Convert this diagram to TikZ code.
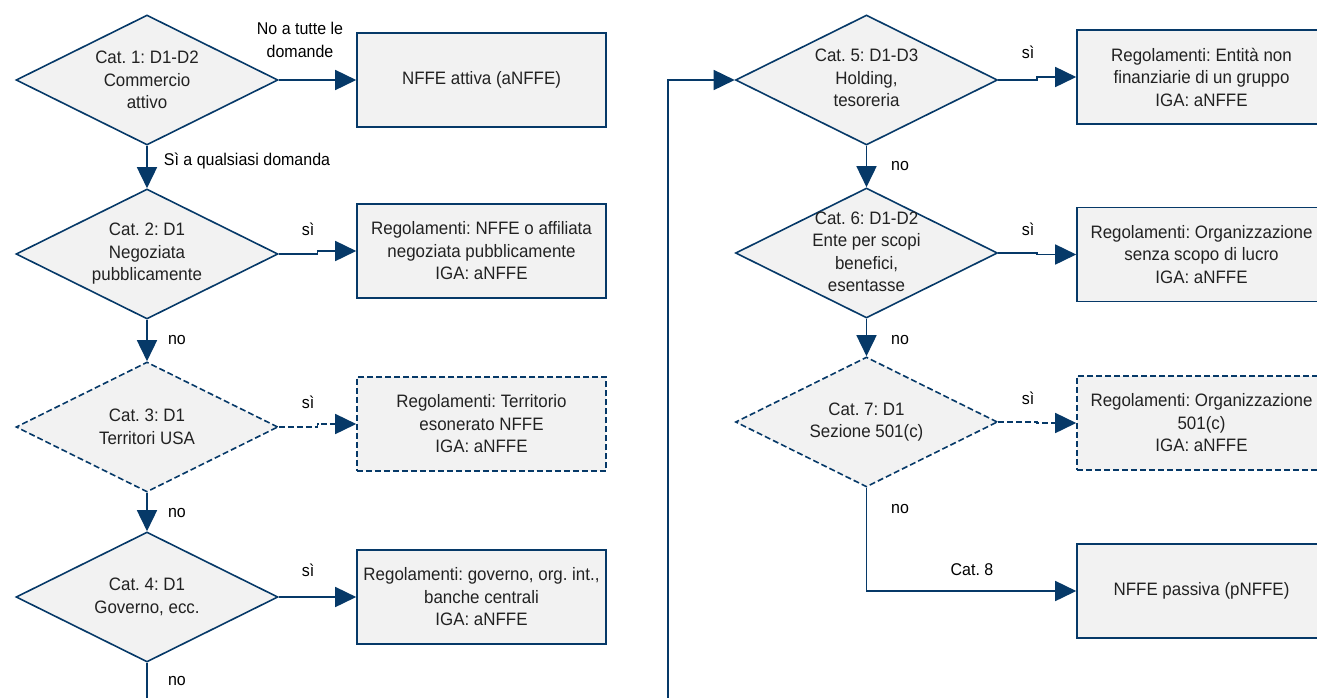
\documentclass[tikz,border=0pt]{standalone}
\usepackage{fontspec}
\setmainfont{Liberation Sans}[FakeStretch=0.94]
\usetikzlibrary{shapes.geometric,arrows.meta,calc}
\definecolor{navy}{RGB}{6,57,104}
\definecolor{boxfill}{RGB}{242,242,242}
\definecolor{txtc}{RGB}{34,34,34}
\frenchspacing
\begin{document}
\begin{tikzpicture}[x=1pt,y=-1pt,
  dia/.style={diamond,draw=navy,fill=boxfill,line width=1.6pt,minimum width=262pt,minimum height=130pt,inner sep=0pt},
  decbox/.style={rectangle,draw=navy,fill=boxfill,line width=1.6pt,minimum width=249pt,minimum height=94pt,inner sep=0pt},
  txt/.style={align=center,text=txtc,font=\fontsize{18}{22.5}\selectfont,inner sep=0pt},
  lbl/.style={align=center,text=black,font=\fontsize{17}{23}\selectfont,inner sep=0pt},
  conn/.style={draw=navy,line width=1.6pt,-{Triangle[length=21pt,width=20pt]}},
  plainline/.style={draw=navy,line width=1.6pt},
  dsh/.style={dash pattern=on 6pt off 3pt}
]
\useasboundingbox[fill=white] (0,0) rectangle (1317,697);

% left column diamonds
\node[dia] (d1) at (147,80) {};
\node[dia] (d2) at (147,254) {};
\node[dia,dsh] (d3) at (147,427) {};
\node[dia] (d4) at (147,597) {};
% right column diamonds
\node[dia] (d5) at (866.5,80) {};
\node[dia] (d6) at (866.5,253) {};
\node[dia,dsh] (d7) at (866.5,422) {};

\node[txt] (t1) at (d1) {Cat. 1: D1-D2\\Commercio\\attivo};
\node[txt] (t2) at (d2) {Cat. 2: D1\\Negoziata\\pubblicamente};
\node[txt] (t3) at (d3) {Cat. 3: D1\\Territori USA};
\node[txt] (t4) at (d4) {Cat. 4: D1\\Governo, ecc.};
\node[txt] (t5) at ([yshift=2]d5.center) {Cat. 5: D1-D3\\Holding,\\tesoreria};
\node[txt] (t6) at ([yshift=1]d6.center) {Cat. 6: D1-D2\\Ente per scopi\\benefici,\\esentasse};
\node[txt] (t7) at (d7) {Cat. 7: D1\\Sezione 501(c)};

% boxes
\node[decbox] (b1) at (481.5,80) {};
\node[decbox] (b2) at (481.5,251) {};
\node[decbox,dsh] (b3) at (481.5,424) {};
\node[decbox] (b4) at (481.5,597) {};
\node[decbox] (b5) at (1201.5,77) {};
\node[decbox] (b6) at (1201.5,254.5) {};
\node[decbox,dsh] (b7) at (1201.5,423) {};
\node[decbox] (b8) at (1201.5,591) {};

\node[txt] (bt1) at (b1) {NFFE attiva (aNFFE)};
\node[txt] (bt2) at (b2) {Regolamenti: NFFE o affiliata\\negoziata pubblicamente\\IGA: aNFFE};
\node[txt] (bt3) at (b3) {Regolamenti: Territorio\\esonerato NFFE\\IGA: aNFFE};
\node[txt] (bt4) at (b4) {Regolamenti: governo, org. int.,\\banche centrali\\IGA: aNFFE};
\node[txt] (bt5) at (b5) {Regolamenti: Entità non\\finanziarie di un gruppo\\IGA: aNFFE};
\node[txt] (bt6) at (b6) {Regolamenti: Organizzazione\\senza scopo di lucro\\IGA: aNFFE};
\node[txt] (bt7) at (b7) {Regolamenti: Organizzazione\\501(c)\\IGA: aNFFE};
\node[txt] (bt8) at (b8) {NFFE passiva (pNFFE)};

% horizontal yes connectors with small jog
\draw[conn] (d1.east) -| ($(d1.east)!0.5!(b1.west)$) |- (b1.west);
\draw[conn] (d2.east) -| ($(d2.east)!0.5!(b2.west)$) |- (b2.west);
\draw[conn,dsh] (d3.east) -| ($(d3.east)!0.5!(b3.west)$) |- (b3.west);
\draw[conn] (d4.east) -| ($(d4.east)!0.5!(b4.west)$) |- (b4.west);
\draw[conn] (d5.east) -| ($(d5.east)!0.5!(b5.west)$) |- (b5.west);
\draw[conn] (d6.east) -| ($(d6.east)!0.5!(b6.west)$) |- (b6.west);
\draw[conn,dsh] (d7.east) -| ($(d7.east)!0.5!(b7.west)$) |- (b7.west);

% vertical no connectors
\draw[conn] (d1.south) -- (d2.north);
\draw[conn] (d2.south) -- (d3.north);
\draw[conn] (d3.south) -- (d4.north);
\draw[conn] (d5.south) -- (d6.north);
\draw[conn] (d6.south) -- (d7.north);
\draw[conn] (d7.south) |- (b8.west);

% continuation lines
\coordinate (endA) at (147,702);
\coordinate (startB) at (668,702);
\draw[plainline] (d4.south) -- (endA);
\draw[conn] (startB) |- (d5.west);

% labels
\node[lbl] (l1) at (300,40) {No a tutte le\\domande};
\node[lbl] (l2) at (247,161) {Sì a qualsiasi domanda};
\node[lbl] (l3) at (308,229) {sì};
\node[lbl] (l4) at (177,340) {no};
\node[lbl] (l5) at (308,402) {sì};
\node[lbl] (l6) at (177,513) {no};
\node[lbl] (l7) at (308,570) {sì};
\node[lbl] (l8) at (177,681) {no};
\node[lbl] (l9) at (1028,52) {sì};
\node[lbl] (l10) at (900,166) {no};
\node[lbl] (l11) at (1028,229) {sì};
\node[lbl] (l12) at (900,340) {no};
\node[lbl] (l13) at (1028,398) {sì};
\node[lbl] (l14) at (900,509) {no};
\node[lbl] (l15) at (972,570) {Cat. 8};
\end{tikzpicture}
\end{document}
